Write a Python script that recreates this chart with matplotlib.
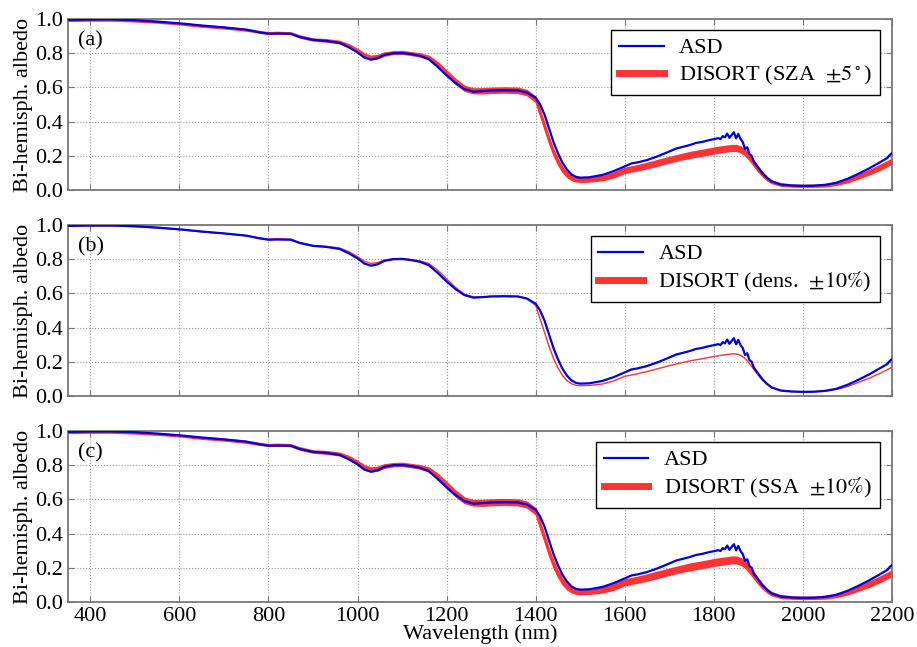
"""
Bi-hemispherical albedo: ASD measurement vs. DISORT simulations
"""

import matplotlib
matplotlib.use("Agg")
import numpy as np
import matplotlib.pyplot as plt
from matplotlib.lines import Line2D

plt.rcParams['font.family'] = ['Liberation Serif', 'DejaVu Serif']
plt.rcParams['mathtext.fontset'] = 'stix'
plt.rcParams['font.size'] = 16

# ASD measurement
ASD_WL = [350, 400, 450, 500, 550, 600, 650, 700, 750, 780, 800, 820, 850, 870, 900,
          930, 960, 980, 1000, 1015, 1030, 1045, 1060, 1080, 1100, 1120, 1140, 1160,
          1180, 1200, 1220, 1240, 1260, 1280, 1300, 1330, 1360, 1380, 1400, 1410, 1420,
          1430, 1440, 1450, 1460, 1470, 1480, 1490, 1500, 1520, 1550, 1575, 1600, 1615,
          1630, 1650, 1675, 1700, 1715, 1730, 1745, 1760, 1775, 1790, 1800, 1810, 1815,
          1820, 1825, 1830, 1835, 1840, 1845, 1850, 1855, 1860, 1865, 1870, 1875, 1880,
          1885, 1890, 1900, 1910, 1920, 1930, 1950, 1975, 2000, 2025, 2050, 2075, 2100,
          2125, 2150, 2175, 2190, 2195, 2200]
ASD_ALB = [0.995, 0.997, 0.997, 0.993, 0.985, 0.975, 0.962, 0.951, 0.938, 0.922, 0.914,
           0.915, 0.914, 0.895, 0.878, 0.872, 0.860, 0.835, 0.805, 0.775, 0.762, 0.770,
           0.790, 0.800, 0.801, 0.795, 0.785, 0.765, 0.720, 0.670, 0.625, 0.590, 0.575,
           0.578, 0.582, 0.583, 0.582, 0.570, 0.540, 0.500, 0.440, 0.360, 0.280, 0.215,
           0.160, 0.120, 0.092, 0.077, 0.072, 0.074, 0.088, 0.110, 0.138, 0.155, 0.162,
           0.175, 0.198, 0.225, 0.242, 0.252, 0.262, 0.275, 0.282, 0.292, 0.297, 0.303,
           0.298, 0.315, 0.308, 0.330, 0.305, 0.322, 0.338, 0.302, 0.328, 0.298, 0.280,
           0.240, 0.250, 0.210, 0.200, 0.165, 0.130, 0.095, 0.070, 0.050, 0.032, 0.026,
           0.024, 0.025, 0.030, 0.042, 0.065, 0.095, 0.128, 0.165, 0.188, 0.205, 0.215]

# DISORT simulation: centre of the sensitivity range and its half spread
DIS_WL = [350, 400, 450, 500, 550, 600, 650, 700, 750, 780, 800, 820, 850, 870, 900,
          930, 960, 980, 1000, 1015, 1030, 1045, 1060, 1080, 1100, 1120, 1140, 1160,
          1180, 1200, 1220, 1240, 1260, 1280, 1300, 1330, 1360, 1380, 1400, 1410, 1420,
          1430, 1440, 1450, 1460, 1470, 1480, 1490, 1500, 1520, 1550, 1575, 1600, 1625,
          1650, 1675, 1700, 1725, 1750, 1770, 1790, 1800, 1820, 1840, 1850, 1860, 1870,
          1880, 1890, 1900, 1910, 1920, 1930, 1950, 1975, 2000, 2025, 2050, 2075, 2100,
          2125, 2150, 2175, 2190, 2200]
DIS_ALB = [0.993, 0.995, 0.995, 0.990, 0.983, 0.973, 0.960, 0.950, 0.937, 0.925, 0.918,
           0.920, 0.917, 0.898, 0.880, 0.875, 0.865, 0.845, 0.815, 0.788, 0.775, 0.780,
           0.795, 0.803, 0.805, 0.798, 0.790, 0.775, 0.735, 0.685, 0.635, 0.595, 0.580,
           0.580, 0.583, 0.585, 0.583, 0.570, 0.530, 0.450, 0.370, 0.290, 0.220, 0.165,
           0.120, 0.090, 0.072, 0.063, 0.060, 0.062, 0.070, 0.088, 0.115, 0.128, 0.143,
           0.160, 0.177, 0.193, 0.207, 0.216, 0.226, 0.231, 0.239, 0.246, 0.246, 0.238,
           0.220, 0.190, 0.155, 0.120, 0.090, 0.065, 0.048, 0.032, 0.026, 0.024, 0.025,
           0.028, 0.038, 0.055, 0.080, 0.105, 0.135, 0.155, 0.168]
DIS_SPREAD = [0.003, 0.003, 0.003, 0.003, 0.003, 0.003, 0.004, 0.004, 0.004, 0.004,
              0.004, 0.004, 0.004, 0.005, 0.005, 0.006, 0.006, 0.007, 0.008, 0.009,
              0.009, 0.009, 0.008, 0.007, 0.007, 0.007, 0.008, 0.009, 0.011, 0.012,
              0.013, 0.013, 0.013, 0.014, 0.014, 0.014, 0.014, 0.014, 0.014, 0.014,
              0.014, 0.014, 0.014, 0.014, 0.013, 0.012, 0.012, 0.012, 0.012, 0.012,
              0.012, 0.013, 0.014, 0.014, 0.015, 0.015, 0.015, 0.015, 0.016, 0.016,
              0.016, 0.016, 0.016, 0.016, 0.016, 0.016, 0.015, 0.014, 0.013, 0.012,
              0.010, 0.008, 0.007, 0.006, 0.005, 0.005, 0.005, 0.006, 0.007, 0.009,
              0.011, 0.012, 0.013, 0.013, 0.013]

PANELS = ["(a)", "(b)", "(c)"]
DIS_LABELS = [r"DISORT (SZA  $\pm5^\circ$)", r"DISORT (dens.  $\pm10\%$)",
              r"DISORT (SSA  $\pm10\%$)"]
SPREAD_SCALE = [1.0, 0.0, 1.15]

X_TICKS = [400, 600, 800, 1000, 1200, 1400, 1600, 1800, 2000, 2200]
Y_TICKS = [0.0, 0.2, 0.4, 0.6, 0.8, 1.0]

BLUE = "#0000e0"
RED = "#ff3333"

wl = np.array(DIS_WL)
alb = np.array(DIS_ALB)
spread = np.array(DIS_SPREAD)

fig, axes = plt.subplots(3, 1, figsize=(9.17, 6.47), dpi=100, sharex=True)
fig.subplots_adjust(left=0.0742, right=0.9727, top=0.9706, bottom=0.0696, hspace=0.205)

for ax, panel, dlabel, scale in zip(axes, PANELS, DIS_LABELS, SPREAD_SCALE):
    if scale > 0:
        ax.fill_between(wl, alb - scale * spread, alb + scale * spread,
                        color=RED, lw=1.2, edgecolor=RED, zorder=2)
    else:
        ax.plot(wl, alb, color=RED, lw=1.0, zorder=2)
    ax.plot(ASD_WL, ASD_ALB, color=BLUE, lw=1.6, zorder=3)

    ax.set_xlim(350, 2200)
    ax.set_ylim(0, 1.0)
    ax.set_xticks(X_TICKS)
    ax.set_yticks(Y_TICKS)
    ax.grid(True, linestyle=':', color='#999999', lw=0.8)
    ax.tick_params(direction='in', length=4, color='#777777', right=True, top=True)
    for sp in ax.spines.values():
        sp.set_color('#777777')
        sp.set_linewidth(1.3)
    ax.set_ylabel("Bi-hemisph. albedo", labelpad=2)
    ax.text(0.012, 0.87, panel, transform=ax.transAxes, va='center', ha='left')

    handles = [Line2D([], [], color=BLUE, lw=1.6),
               Line2D([], [], color=RED, lw=5)]
    leg = ax.legend(handles, ["ASD", dlabel], loc='upper right', fancybox=False,
                    framealpha=1, edgecolor='black', handlelength=2.0,
                    handletextpad=0.7, borderpad=0.35, labelspacing=0.25,
                    borderaxespad=0, bbox_to_anchor=(0.985, 0.936))
    leg.get_frame().set_linewidth(1.0)

axes[2].set_xlabel("Wavelength (nm)", labelpad=-1)

fig.savefig("out.png", dpi=100)
